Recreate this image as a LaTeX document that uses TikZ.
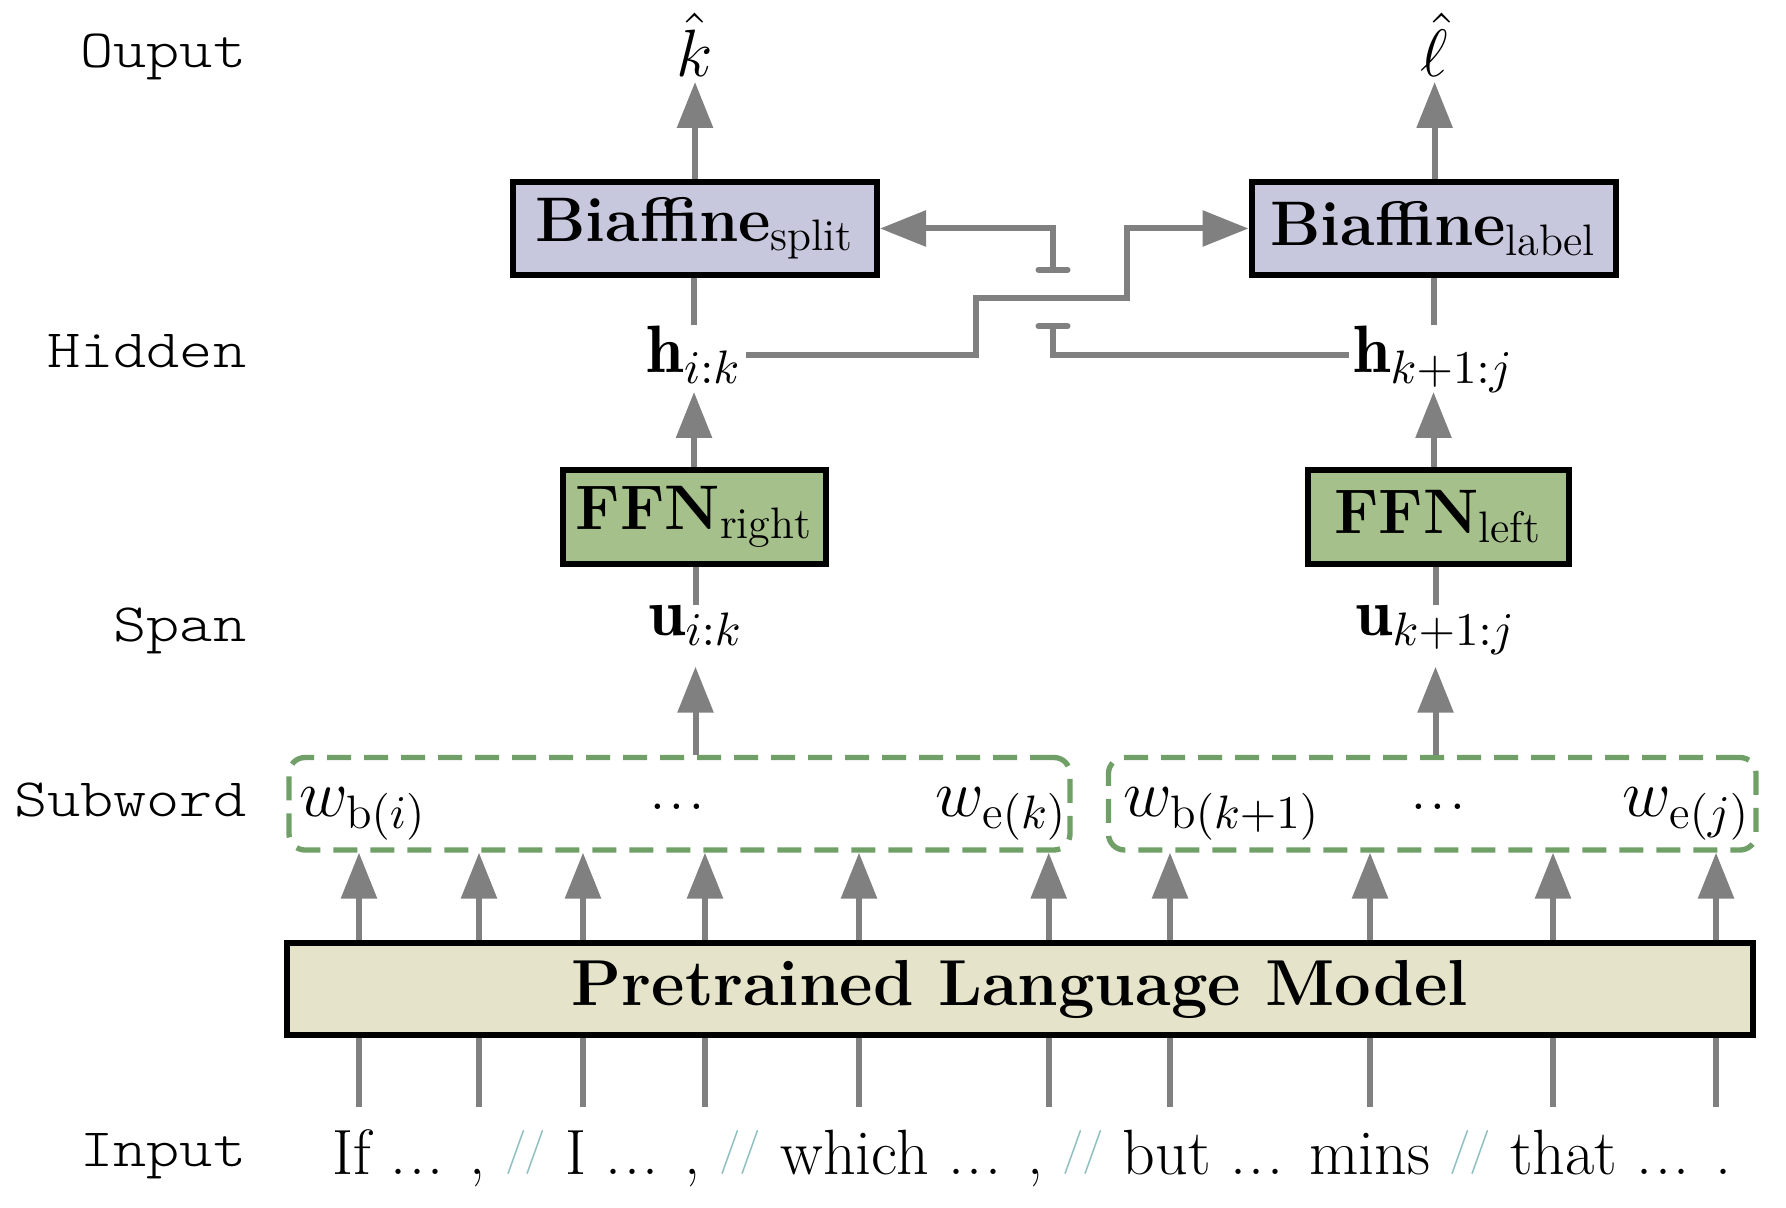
\RequirePackage{fix-cm}
\documentclass[tikz,border=0pt]{standalone}
\usepackage{fontspec}
\newfontfamily\courier{lmmonolt10-regular.otf}[FakeStretch=1.17]
\usetikzlibrary{arrows.meta,calc}
\definecolor{arrgray}{RGB}{128,128,128}
\definecolor{dgreen}{RGB}{112,160,104}
\definecolor{lav}{RGB}{199,199,222}
\definecolor{ffng}{RGB}{165,192,138}
\definecolor{plmc}{RGB}{229,228,202}
\definecolor{slashc}{RGB}{143,190,190}
\newcommand\dd{.\kern.04em.\kern.04em.}
\newcommand\slsep{{\color{slashc}\raisebox{2.75pt}{\fontsize{11}{11}\selectfont/\kern-0.5pt/}}}
\begin{document}
\begin{tikzpicture}[x=0.25pt,y=-0.25pt,
  lab/.style={font=\courier\fontsize{13.5}{16}\selectfont, anchor=base east, inner sep=0pt},
  mth/.style={font=\fontsize{16.75}{20}\selectfont, inner sep=1pt},
  blk/.style={draw=black, line width=1.5pt, inner sep=0pt, font=\fontsize{15.75}{19}\selectfont},
  arr/.style={draw=arrgray, line width=1.5pt, -{Triangle[length=11.5pt,width=8.75pt]}},
  ln/.style={draw=arrgray, line width=1.5pt},
  subbox/.style={draw=dgreen, line width=1.33pt, dash pattern=on 6pt off 3.25pt, rounded corners=4pt, inner sep=0pt},
]
\useasboundingbox (0,0) rectangle (1786,1208);

% row labels
\node[lab] (lo) at (247,68) {Ouput};
\node[lab] (lhid) at (247,368) {Hidden};
\node[lab] (lspan) at (247,641.7) {Span};
\node[lab] (lsub) at (247,816.7) {Subword};
\node[lab] (lin) at (247,1166) {Input};

% boxes
\node[blk, fill=lav, minimum width=91pt, minimum height=23.25pt] (bs) at (695,228.5) {\textbf{Biaffine}$_{\mathrm{split}}$};
\node[blk, fill=lav, minimum width=91pt, minimum height=23.25pt] (bl) at (1433.5,228.5) {\textbf{Biaffine}$_{\mathrm{label}}$};
\node[blk, fill=ffng, minimum width=65.75pt, minimum height=23.4pt] (fr) at (694.5,516.75) {\textbf{FFN}$_{\mathrm{right}}$};
\node[blk, fill=ffng, minimum width=65.25pt, minimum height=23.4pt] (fl) at (1438,516.75) {\textbf{FFN}$_{\mathrm{left}}$};
\node[blk, fill=plmc, minimum width=366.4pt, minimum height=23pt, font=\bfseries\fontsize{16.25}{19}\selectfont] (plm) at (1019.75,989) {Pretrained Language Model};

% math labels
\node[mth, anchor=base] (kh) at (695,77) {$\hat{k}$};
\node[mth, anchor=base] (lhat) at (1434.6,77) {$\hat{\ell}$};
\node[mth, anchor=base] (h1) at (694,373) {$\mathbf{h}_{i:k}$};
\node[mth, anchor=base] (h2) at (1433.5,373) {$\mathbf{h}_{k+1:j}$};
\node[mth, anchor=base] (u1) at (695.5,635) {$\mathbf{u}_{i:k}$};
\node[mth, anchor=base] (u2) at (1435.5,635) {$\mathbf{u}_{k+1:j}$};

% subword groups
\node[subbox, minimum width=195.25pt, minimum height=23.125pt] (sbL) at (679.5,803.75) {};
\node[subbox, minimum width=161.875pt, minimum height=23.125pt] (sbR) at (1432.25,803.75) {};
\node[mth, anchor=base west, inner sep=0pt] (wbi) at (298.5,816.7) {$w_{\mathrm{b}(i)}$};
\node[mth, inner sep=0pt] (dl) at (677,807) {\dd};
\node[mth, anchor=base east, inner sep=0pt] (wek) at (1068,816.7) {$w_{\mathrm{e}(k)}$};
\node[mth, anchor=base west, inner sep=0pt] (wbk) at (1122.6,816.7) {$w_{\mathrm{b}(k+1)}$};
\node[mth, inner sep=0pt] (dr) at (1438,807) {\dd};
\node[mth, anchor=base east, inner sep=0pt] (wej) at (1751,816.7) {$w_{\mathrm{e}(j)}$};

% input sentence
\node[anchor=base west, inner sep=0pt, font=\fontsize{16}{19}\selectfont] (inp) at (332,1174)
  {If \dd{} , \slsep{} I \dd{} , \slsep{} which \dd{} , \slsep{} but \dd{} mins \slsep{} that \dd{} .};

% vertical connectors
\draw[arr] (bs.north -| kh.base) -- ($(kh.base)+(0,5)$);
\draw[arr] (bl.north -| lhat.base) -- ($(lhat.base)+(0,5)$);
\draw[ln] ($(h1.base)+(0,-48)$) -- (bs.south -| h1.base);
\draw[ln] ($(h2.base)+(0,-48)$) -- (bl.south -| h2.base);
\draw[arr] (fr.north -| h1.base) -- ($(h1.base)+(0,19)$);
\draw[arr] (fl.north -| h2.base) -- ($(h2.base)+(0,19)$);
\draw[ln] ($(u1.base)+(0,-30)$) -- (fr.south -| u1.base);
\draw[ln] ($(u2.base)+(0,-30)$) -- (fl.south -| u2.base);
\draw[arr] (sbL.north -| u1.base) -- ($(u1.base)+(0,31.7)$);
\draw[arr] (sbR.north -| u2.base) -- ($(u2.base)+(0,31.7)$);

% crossing connectors
\coordinate (c1) at (976,297.7);
\coordinate (c2) at (1127,297.7);
\coordinate (j1) at (1053,323.3);
\coordinate (j2) at (1053,272.7);
\draw[arr] (h1.east) -| (c1) -- (c2) |- (bl.west);
\draw[ln, -{Bar[width=7.25pt,round]}] (h2.west |- h1.east) -| (j1);
\draw[arr, {Bar[width=7.25pt,round]}-{Triangle[length=11.5pt,width=8.75pt]}] (j2) |- (bs.east);

% PLM to subwords, input to PLM
\foreach \x [count=\i] in {359,479,583,705,859,1048.7} {
  \coordinate (bl\i) at (\x,1107);
  \draw[ln] (bl\i) -- (plm.south -| bl\i);
  \draw[arr] (plm.north -| bl\i) -- (sbL.south -| bl\i);
}
\foreach \x [count=\i] in {1170,1370,1553,1716} {
  \coordinate (br\i) at (\x,1107);
  \draw[ln] (br\i) -- (plm.south -| br\i);
  \draw[arr] (plm.north -| br\i) -- (sbR.south -| br\i);
}
\end{tikzpicture}
\end{document}
